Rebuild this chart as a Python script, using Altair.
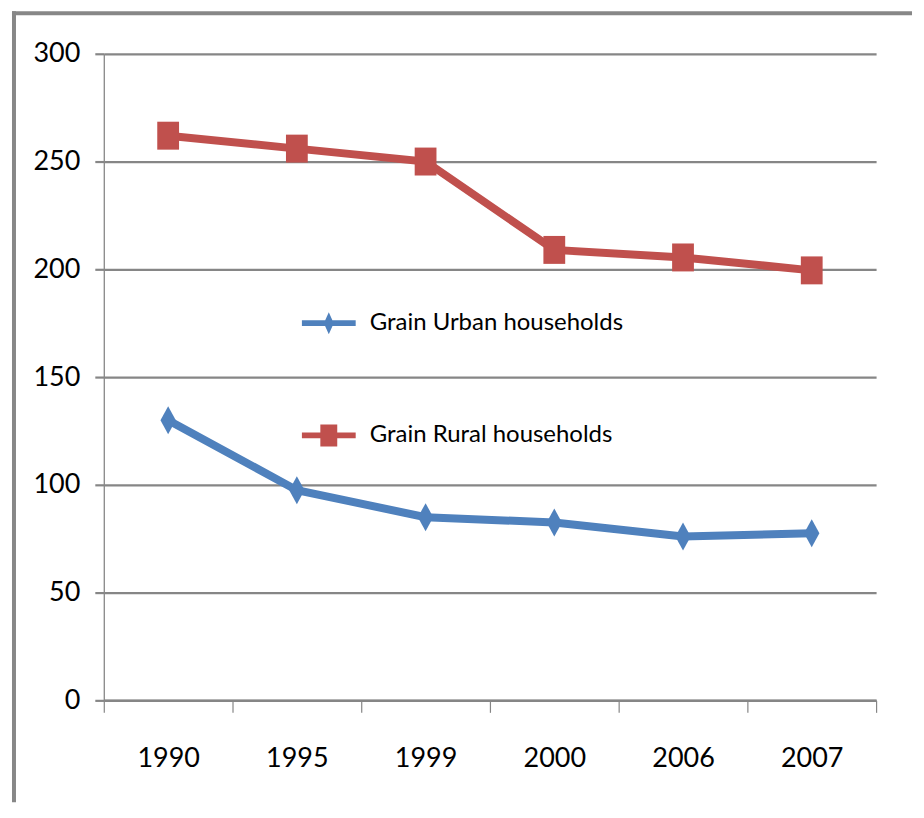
import altair as alt
import pandas as pd

years = ["1990", "1995", "1999", "2000", "2006", "2007"]
urban = [130, 97.5, 85, 82.5, 76, 77.5]
rural = [262, 256, 250, 209, 205.5, 199.5]
series_names = ["Grain Urban households", "Grain Rural households"]
colors = ["#4F81BD", "#C0504D"]
y_ticks = [0, 50, 100, 150, 200, 250, 300]

marker_paths = ["M0,-1L0.55,0L0,1L-0.55,0Z", "M-0.78,-1L0.78,-1L0.78,1L-0.78,1Z"]
legend_paths = [
    "M-2.45,-0.26L2.45,-0.26L2.45,0.26L-2.45,0.26ZM0,-1L0.45,0L0,1L-0.45,0Z",
    "M-2.45,-0.26L2.45,-0.26L2.45,0.26L-2.45,0.26ZM-0.77,-1L0.77,-1L0.77,1L-0.77,1Z",
]

df = pd.DataFrame({
    "year": years * 2,
    "value": urban + rural,
    "series": [series_names[0]] * len(years) + [series_names[1]] * len(years),
})

FONT = "Lato, Liberation Sans, sans-serif"
GRID = "#868686"
W, H = 774, 648

x = alt.X(
    "year:N", sort=years, title=None,
    scale=alt.Scale(type="band", paddingInner=0, paddingOuter=0),
    axis=alt.Axis(labelAngle=0, tickBand="extent", domainColor=GRID, domainWidth=2.5,
                  tickColor=GRID, tickWidth=1.2, tickSize=12, labelPadding=33,
                  labelFontSize=27, labelFont=FONT, labelColor="#000", grid=False),
)
y = alt.Y(
    "value:Q", title=None,
    scale=alt.Scale(domain=[0, 300], nice=False),
    axis=alt.Axis(values=y_ticks, grid=True, gridColor=GRID, gridWidth=2.2,
                  domainColor=GRID, domainWidth=1.3, tickColor=GRID, tickWidth=2.2,
                  tickSize=9, labelPadding=15, labelFontSize=27, labelFont=FONT,
                  labelColor="#000"),
)

color_scale = alt.Scale(domain=series_names, range=colors)

lines = alt.Chart(df).mark_line(strokeWidth=8).encode(
    x=x, y=y, color=alt.Color("series:N", scale=color_scale, legend=None)
)
points = alt.Chart(df).mark_point(filled=True, size=784, opacity=1, strokeWidth=0).encode(
    x=x, y=y,
    color=alt.Color("series:N", scale=color_scale, legend=None),
    shape=alt.Shape("series:N", scale=alt.Scale(domain=series_names, range=marker_paths), legend=None),
)


def legend_entry(i, top):
    lg = alt.Legend(
        orient="none", legendX=213.5, legendY=top, title=None, padding=0,
        labelFont=FONT, labelFontSize=24, labelColor="#000", labelLimit=0,
        symbolSize=484, labelOffset=29, symbolStrokeWidth=0, symbolOpacity=1,
    )
    return alt.Chart(df).transform_filter("false").mark_point(
        filled=True, opacity=1, strokeWidth=0, color=colors[i]
    ).encode(
        x=x, y=y,
        shape=alt.Shape("series:N",
                        scale=alt.Scale(domain=[series_names[i]], range=[legend_paths[i]]),
                        legend=lg),
    )


leg_urban = legend_entry(0, 258)
leg_rural = legend_entry(1, 370.5)

frame_df = pd.DataFrame({"k": [0]})
left_line = alt.Chart(frame_df).mark_rule(color="#878787", strokeWidth=4).encode(
    x=alt.value(-90), y=alt.value(-42.5), y2=alt.value(750)
)
top_line = alt.Chart(frame_df).mark_rule(color="#878787", strokeWidth=4).encode(
    y=alt.value(-40.5), x=alt.value(-92), x2=alt.value(810)
)

chart = alt.layer(lines, points, leg_urban, leg_rural, left_line, top_line).resolve_scale(
    shape="independent"
).properties(
    width=W, height=H, padding={"left": 2, "top": 0, "right": 2, "bottom": 2},
    background="white",
).configure_view(stroke=None)

chart.save("out.html", embed_options={"renderer": "svg", "actions": False})
